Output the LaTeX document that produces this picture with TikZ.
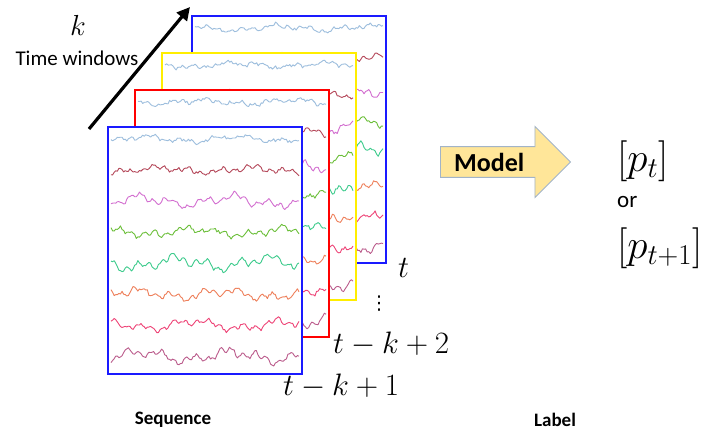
\RequirePackage{fix-cm}
\documentclass[tikz,border=0pt]{standalone}
\usepackage{fontspec}
\setsansfont{Carlito}
\newfontfamily\twsymbols{DejaVu Sans}
\usetikzlibrary{arrows.meta,shapes.arrows}
\definecolor{tc1}{HTML}{9DBEDD}
\definecolor{tc2}{HTML}{B5485A}
\definecolor{tc3}{HTML}{D36FD0}
\definecolor{tc4}{HTML}{6CBF3A}
\definecolor{tc5}{HTML}{3CCB8C}
\definecolor{tc6}{HTML}{EE7F5A}
\definecolor{tc7}{HTML}{EE4477}
\definecolor{tc8}{HTML}{BB5C8C}
\definecolor{framey}{HTML}{FFEE00}
\definecolor{framebl}{HTML}{1A1AFF}
\definecolor{arrowfill}{HTML}{FFE699}
\definecolor{arrowedge}{HTML}{A2B4C8}
\tikzset{
 tw frame/.style={draw,line width=1.8pt,fill=white,minimum width=194pt,
                  minimum height=247pt,inner sep=0pt,outer sep=0pt,anchor=north west},
 tw trace/.style={line width=.9pt,line join=round},
 tw axis/.style={line width=3.2pt,-{Triangle[length=13pt,width=13pt]}},
 tw math/.style={font=\fontsize{31}{36}\selectfont,inner sep=0pt},
 tw text/.style={font=\sffamily\fontsize{21}{25}\selectfont,inner sep=0pt},
 tw caption/.style={font=\sffamily\bfseries\fontsize{19}{23}\selectfont,inner sep=0pt},
 tw model/.style={single arrow,draw=arrowedge,fill=arrowfill,line width=.9pt,
                  minimum height=130pt,minimum width=71pt,single arrow head extend=17pt,
                  font=\sffamily\bfseries\fontsize{26}{30}\selectfont,anchor=tail},
 tw label/.style={font=\fontsize{41}{48}\selectfont,inner sep=0pt,anchor=west}
}
\begin{document}
\begin{tikzpicture}[x=1pt,y=-1pt]
 \useasboundingbox (0,0) rectangle (724,433);
 \pgfmathsetseed{11}
 \foreach \i/\l/\t/\c in {4/192/16/framebl,3/162/53/framey,2/135/90/red,1/108/127/framebl}{
   \node[tw frame,draw=\c] (f\i) at (\l,\t) {};
   \pgfmathsetmacro\xa{\l+3}
   \pgfmathsetmacro\xb{\l+191}
   \foreach \j/\a/\b in {1/2/1.2,2/2.2/1.6,3/3.8/2.2,4/2.8/1.8,5/4.4/2.6,6/3.4/2.2,7/3.4/2,8/4.2/2.6}{
     \pgfmathsetmacro\pa{360*rnd}
     \pgfmathsetmacro\pb{360*rnd}
     \pgfmathsetmacro\pc{360*rnd}
     \pgfmathsetmacro\ty{\t+12+31*(\j-1)}
     \draw[tw trace,tc\j] plot[domain=\xa:\xb,samples=120]
       (\x,{\ty+\a*sin(4*\x+\pa)+.8*\a*sin(11*\x+\pc)+\b*sin(31*\x+\pb)+1.4*rand});
   }
 }
 \node[tw math,font=\fontsize{29}{34}\selectfont] (kk) at (78,25) {$k$};
 \node[tw text] (tw) at (77,58) {Time windows};
 \coordinate (ktail) at (89,129);
 \coordinate (khead) at (190,7);
 \draw[tw axis] (ktail) -- (khead);
 \node[tw math,anchor=west] (tt) at (398,268) {$t$};
 \node[inner sep=0pt,font=\twsymbols\fontsize{19}{22}\selectfont] (tdots) at (379,304) {⋮};
 \node[tw math,anchor=west] (tk2) at (333,344) {$t-k+2$};
 \node[tw math,anchor=west] (tk1) at (283,386) {$t-k+1$};
 \node[tw model] (model) at (440,162) {Model\hspace*{17pt}};
 \node[tw label] (pt) at (617,161) {$[p_t]$};
 \node[tw text,font=\sffamily\fontsize{23}{27}\selectfont,anchor=west] (or) at (617,202) {or};
 \node[tw label] (pt1) at (617,248) {$[p_{t+1}]$};
 \node[tw caption] (seq) at (173,420) {Sequence};
 \node[tw caption] (lab) at (555,420) {Label};
\end{tikzpicture}
\end{document}
